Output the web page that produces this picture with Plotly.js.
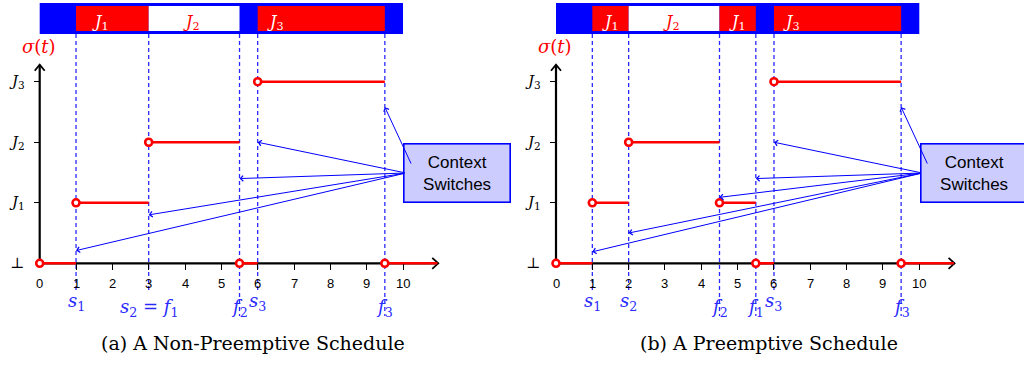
<!DOCTYPE html>
<html><head><meta charset="utf-8">
<script src="https://cdn.plot.ly/plotly-3.0.1.min.js"></script>
<style>html,body{margin:0;padding:0;background:#fff;} #chart{width:1024px;height:365px;}</style>
</head><body><div id="chart"></div>
<script>
// ---------------- data ----------------
const levelNames  = ['⊥', 'J1', 'J2', 'J3'];
const levelValues = [0, 1, 2, 3];
const xTicks = [0, 1, 2, 3, 4, 5, 6, 7, 8, 9, 10];
const timelineSpan = [0, 10];
const axisEndX = 10.97;
const axisEndY = 3.28;
const jobColor = {J1: '#ff0000', J2: '#ffffff', J3: '#ff0000'};

// (a) non-preemptive schedule
const aSegStart  = [0, 1, 3, 5.5, 6, 9.5];
const aSegEnd    = [1, 3, 5.5, 6, 9.5, 10.95];
const aSegLevel  = [0, 1, 2, 0, 3, 0];
const aRunStart  = [1, 3, 6];
const aRunEnd    = [3, 5.5, 9.5];
const aRunJob    = ['J1', 'J2', 'J3'];
const aRunLabelX = [1.66, 4.17, 6.5];
const aEventX     = [1, 3, 5.5, 6, 9.5];
const aEventLabel = ['s1', 's2 = f1', 'f2', 's3', 'f3'];
const aSwitchX = [1, 3, 5.5, 6, 9.5];
const aSwitchY = [0.21, 0.8, 1.4, 2.0, 2.58];

// (b) preemptive schedule
const bSegStart  = [0, 1, 2, 4.5, 5.5, 6, 9.5];
const bSegEnd    = [1, 2, 4.5, 5.5, 6, 9.5, 10.95];
const bSegLevel  = [0, 1, 2, 1, 0, 3, 0];
const bRunStart  = [1, 2, 4.5, 6];
const bRunEnd    = [2, 4.5, 5.5, 9.5];
const bRunJob    = ['J1', 'J2', 'J1', 'J3'];
const bRunLabelX = [1.51, 3.18, 5.0, 6.49];
const bEventX     = [1, 2, 4.5, 5.5, 6, 9.5];
const bEventLabel = ['s1', 's2', 'f2', 'f1', 's3', 'f3'];
const bSwitchX = [1, 2, 4.5, 5.5, 6, 9.5];
const bSwitchY = [0.19, 0.5, 1.09, 1.4, 2.0, 2.58];

const captions = ['(a) A Non-Preemptive Schedule', '(b) A Preemptive Schedule'];
const boxText = 'Context<br>Switches';

// ---------------- layout calibration (pixels) ----------------
const W = 1024, H = 365;
const U = 36.33;             // px per time unit
const X0 = [39.7, 556];      // px of t = 0 in each panel
const Y0 = 263.3, V = 60.53; // px of level 0, px per level
const py = p => (Y0 - p) / V;        // pixel-y -> data-y
const px = (p, k) => (p - X0[k]) / U; // pixel-x -> data-x

const SERIF = 'DejaVu Serif', SANS = 'Liberation Sans';
const BLUE = '#0000ff', RED = '#ff0000', LBLUE = '#2a2aff';

function mathLabel(s) {
  return s.split(' ').map(tok => {
    const m = tok.match(/^([A-Za-z])(\d+)$/);
    return m ? '<i>' + m[1] + '</i><sub>' + m[2] + '</sub>' : tok;
  }).join(' ');
}

const traces = [], shapes = [], annotations = [];

function panel(k, d) {
  const xa = k === 0 ? 'x' : 'x2', ya = k === 0 ? 'y' : 'y2';
  const base = {type: 'scatter', xaxis: xa, yaxis: ya, hoverinfo: 'skip', showlegend: false, cliponaxis: false};
  const label = (x, y, text, family, size, color) => annotations.push({xref: xa, yref: ya, x: x, y: y,
    text: text, showarrow: false, xanchor: 'center', yanchor: 'middle',
    font: {family: family, size: size, color: color}});

  // timeline bar
  shapes.push({type: 'rect', xref: xa, yref: ya, x0: timelineSpan[0], x1: timelineSpan[1],
    y0: py(34), y1: py(3), fillcolor: BLUE, line: {width: 0}, layer: 'below'});
  d.runStart.forEach((s, i) => {
    shapes.push({type: 'rect', xref: xa, yref: ya, x0: s, x1: d.runEnd[i],
      y0: py(31), y1: py(6), fillcolor: jobColor[d.runJob[i]], line: {width: 0}, layer: 'below'});
  });
  d.runJob.forEach((j, i) => label(d.runLabelX[i], py(22), mathLabel(j), SERIF, 16,
    jobColor[j] === '#ffffff' ? RED : '#ffffff'));

  // dashed event lines
  const lx = [], ly = [];
  d.eventX.forEach((x, i) => {
    const low = d.eventLabel[i].startsWith('f');
    lx.push(x, x, null); ly.push(py(34), py(low ? 316 : 293), null);
  });
  traces.push(Object.assign({}, base, {mode: 'lines', x: lx, y: ly,
    line: {color: LBLUE, width: 1.3, dash: '4px,3px'}}));

  // axes lines
  traces.push(Object.assign({}, base, {mode: 'lines', x: [0, axisEndX, null, 0, 0], y: [0, 0, null, 0, axisEndY],
    line: {color: '#000', width: 2.2}}));
  // arrow chevrons
  const cx = 6 / U, cy = 5.5 / V, vx = 5 / U, vy = 6 / V;
  traces.push(Object.assign({}, base, {mode: 'lines',
    x: [axisEndX - cx, axisEndX, axisEndX - cx, null, -vx, 0, vx],
    y: [cy, 0, -cy, null, axisEndY - vy, axisEndY, axisEndY - vy],
    line: {color: '#000', width: 1.8}}));

  // red state segments
  const sx = [], sy = [];
  d.segStart.forEach((s, i) => { sx.push(s, d.segEnd[i], null); sy.push(d.segLevel[i], d.segLevel[i], null); });
  traces.push(Object.assign({}, base, {mode: 'lines', x: sx, y: sy, line: {color: RED, width: 2.6}}));
  traces.push(Object.assign({}, base, {mode: 'markers', x: d.segStart, y: d.segLevel,
    marker: {symbol: 'circle', size: 7, color: '#fff', line: {color: RED, width: 2.6}}}));

  // tick labels
  xTicks.forEach(t => label(t, py(283), String(t), SANS, 13, '#000'));
  levelValues.forEach((v, i) => label(-0.63, v, mathLabel(levelNames[i]), SERIF, 15, '#000'));
  // sigma(t)
  label(-0.02, py(46), '<i>σ</i>(<i>t</i>)', SERIF, 18, RED);
  // event labels
  d.eventX.forEach((x, i) => {
    const l = d.eventLabel[i];
    label(x, py(l.indexOf('f') >= 0 ? 308 : 302), mathLabel(l), SERIF, 18, LBLUE);
  });

  // context switch box + arrows
  annotations.push({xref: xa, yref: ya, x: 11.5, y: py(173), text: boxText, showarrow: false,
    font: {family: SANS, size: 17, color: '#000'}, bgcolor: '#ccccff', bordercolor: BLUE,
    borderwidth: 1.6, borderpad: 0, width: 105, height: 57, xanchor: 'center', yanchor: 'middle'});
  d.switchX.forEach((x, i) => {
    const top = x === 9.5;
    annotations.push({xref: xa, yref: ya, axref: xa, ayref: ya, x: x, y: d.switchY[i],
      ax: top ? 10.24 : 10.08, ay: top ? py(165) : py(173), text: '', showarrow: true,
      arrowhead: 4, arrowsize: 1.1, arrowwidth: 1, arrowcolor: BLUE, standoff: 0});
  });

  // caption
  annotations.push({xref: xa, yref: 'paper', x: px(k === 0 ? 253 : 769, k), y: 1 - 343 / H,
    text: captions[k], showarrow: false, font: {family: SERIF, size: 19, color: '#000'},
    xanchor: 'center', yanchor: 'middle'});
}

panel(0, {segStart: aSegStart, segEnd: aSegEnd, segLevel: aSegLevel, runStart: aRunStart, runEnd: aRunEnd,
  runJob: aRunJob, runLabelX: aRunLabelX, eventX: aEventX, eventLabel: aEventLabel, switchX: aSwitchX, switchY: aSwitchY});
panel(1, {segStart: bSegStart, segEnd: bSegEnd, segLevel: bSegLevel, runStart: bRunStart, runEnd: bRunEnd,
  runJob: bRunJob, runLabelX: bRunLabelX, eventX: bEventX, eventLabel: bEventLabel, switchX: bSwitchX, switchY: bSwitchY});

function xaxisFor(k) {
  return {domain: k === 0 ? [0, 0.5] : [0.5, 1], range: k === 0 ? [px(0, 0), px(512, 0)] : [px(512, 1), px(1024, 1)],
    anchor: 'free', position: 1 - Y0 / H, showgrid: false, zeroline: false, showline: false,
    ticks: 'outside', ticklen: 6, tickwidth: 1, tickcolor: '#000', showticklabels: false,
    tickmode: 'array', tickvals: xTicks.filter(v => v > 0), fixedrange: true};
}
function yaxisFor(k) {
  return {domain: [0, 1], range: [py(H), py(0)], anchor: 'free', position: X0[k] / W,
    showgrid: false, zeroline: false, showline: false, ticks: 'outside', ticklen: 6, tickwidth: 1,
    tickcolor: '#000', showticklabels: false, tickmode: 'array', tickvals: levelValues.filter(v => v > 0),
    fixedrange: true};
}
const layout = {
  width: W, height: H, margin: {l: 0, r: 0, t: 0, b: 0}, paper_bgcolor: '#fff', plot_bgcolor: 'rgba(0,0,0,0)',
  showlegend: false, xaxis: xaxisFor(0), xaxis2: xaxisFor(1), yaxis: yaxisFor(0), yaxis2: yaxisFor(1),
  shapes: shapes, annotations: annotations
};
Plotly.newPlot('chart', traces, layout, {staticPlot: true});
</script></body></html>
